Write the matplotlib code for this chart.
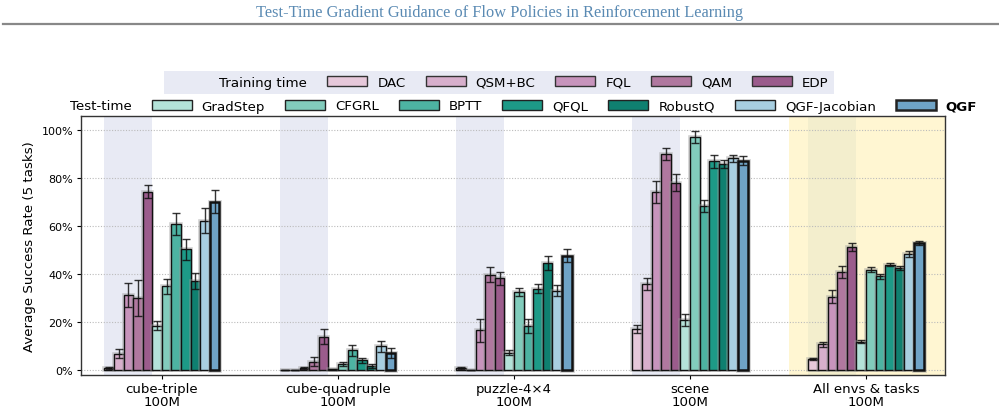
import matplotlib
matplotlib.use("Agg")
import matplotlib.pyplot as plt
import matplotlib.patheffects as pe
from matplotlib.patches import Patch
from matplotlib.lines import Line2D
import numpy as np

groups = ["cube-triple\n100M", "cube-quadruple\n100M", "puzzle-4×4\n100M",
          "scene\n100M", "All envs & tasks\n100M"]
train_methods = ["DAC", "QSM+BC", "FQL", "QAM", "EDP"]
test_methods = ["GradStep", "CFGRL", "BPTT", "QFQL", "RobustQ", "QGF-Jacobian", "QGF"]

dac = [1.0, 0.1, 1.0, 17.2, 4.7]
dac_err = [0.3, 0.1, 0.3, 1.5, 0.4]
qsm = [7.0, 0.2, 0.0, 35.8, 10.8]
qsm_err = [1.9, 0.1, 0.0, 2.4, 1.0]
fql = [31.3, 1.0, 16.7, 74.1, 30.7]
fql_err = [5.1, 0.4, 4.8, 4.6, 2.8]
qam = [30.0, 3.6, 39.8, 89.8, 40.8]
qam_err = [7.4, 1.9, 3.2, 2.5, 2.4]
edp = [74.3, 14.0, 38.3, 78.1, 51.3]
edp_err = [2.8, 3.2, 2.8, 3.6, 1.5]
gradstep = [18.5, 0.5, 7.3, 20.9, 11.9]
gradstep_err = [1.9, 0.2, 1.1, 2.4, 0.6]
cfgrl = [35.0, 2.5, 32.6, 97.0, 41.9]
cfgrl_err = [3.1, 0.8, 1.7, 2.6, 1.0]
bptt = [60.7, 8.4, 18.3, 68.5, 39.1]
bptt_err = [4.6, 2.3, 2.9, 2.5, 1.0]
qfql = [50.3, 4.1, 34.0, 86.9, 44.0]
qfql_err = [4.5, 1.1, 1.7, 2.8, 0.8]
robustq = [37.2, 1.9, 44.5, 85.9, 42.5]
robustq_err = [3.2, 0.8, 2.9, 1.7, 0.7]
qgfj = [62.2, 10.1, 33.2, 88.2, 48.4]
qgfj_err = [5.2, 2.3, 2.2, 1.5, 1.4]
qgf = [70.1, 7.2, 47.7, 87.1, 53.0]
qgf_err = [4.8, 1.9, 2.6, 1.9, 0.8]

values = [dac, qsm, fql, qam, edp, gradstep, cfgrl, bptt, qfql, robustq, qgfj, qgf]
errors = [dac_err, qsm_err, fql_err, qam_err, edp_err, gradstep_err, cfgrl_err,
          bptt_err, qfql_err, robustq_err, qgfj_err, qgf_err]
colors = ["#e6c8da", "#d7afcc", "#c794bc", "#b0789f", "#9b5c8c",
          "#b4e3d9", "#82ccbc", "#4db3a2", "#1d9a87", "#0f8070", "#a8cfe1", "#6fa3c6"]
methods = train_methods + test_methods

plt.rcParams['font.family'] = ['DejaVu Sans']
FS = 9.6

fig = plt.figure(figsize=(9.99, 4.14), dpi=100)
ax = fig.add_axes([0.081, 0.092, 0.865, 0.625])

n = len(methods)
w = 0.0545
x = np.arange(len(groups))
offsets = (np.arange(n) - (n - 1) / 2) * w

ax.set_xlim(-0.46, 4.449)
ax.set_ylim(-1.9, 105.7)

# background bands
for gi in range(len(groups)):
    left = x[gi] + offsets[0] - w / 2
    right = x[gi] + offsets[len(train_methods) - 1] + w / 2
    if gi == len(groups) - 1:
        ax.axvspan(x[gi] - 0.4375, 4.449, color="#fff6d2", zorder=0, lw=0)
        ax.axvspan(left, right, color="#f3eecd", zorder=0.5, lw=0)
    else:
        ax.axvspan(left, right, color="#e8eaf4", zorder=0, lw=0)

ax.yaxis.grid(True, linestyle=(0, (1, 1.5)), color="#bbbbbb", linewidth=0.8, zorder=1)
ax.set_axisbelow(True)

for i, (m, v, e, c) in enumerate(zip(methods, values, errors, colors)):
    lw = 1.8 if m == "QGF" else 1.0
    bars = ax.bar(x + offsets[i], v, width=w, color=c, edgecolor="#111111", linewidth=lw,
                  zorder=3)
    for b in bars:
        b.set_path_effects([pe.Stroke(linewidth=lw + 1.6, foreground="#999999", alpha=0.45),
                            pe.Normal()])
    ax.errorbar(x + offsets[i], v, yerr=e, fmt="none", ecolor="#111111",
                elinewidth=1.0, capsize=3, capthick=1.0, alpha=0.85, zorder=4)

ax.set_xticks(x)
ax.set_xticklabels(groups, fontsize=FS, linespacing=1.05)
ax.tick_params(axis="x", length=3, pad=2)
ax.set_yticks([0, 20, 40, 60, 80, 100])
ax.set_yticklabels(["0%", "20%", "40%", "60%", "80%", "100%"], fontsize=8)
ax.tick_params(axis="y", length=3, pad=2.5)
ax.set_ylabel("Average Success Rate (5 tasks)", fontsize=FS, labelpad=4)
for s in ax.spines.values():
    s.set_color("#333333")
    s.set_linewidth(1.0)

# legends
blank = Patch(facecolor="none", edgecolor="none")
h1 = [blank] + [Patch(facecolor=colors[i], edgecolor="#333333", linewidth=1.0)
                for i in range(len(train_methods))]
l1 = ["Training time"] + train_methods
leg1 = fig.legend(h1, l1, ncol=6, loc="center", bbox_to_anchor=(0.4995, 1 - 83.5 / 414),
                  fontsize=FS, frameon=True, fancybox=False, handlelength=3.0,
                  handleheight=0.75, handletextpad=0.75, columnspacing=1.5,
                  borderpad=0.4, borderaxespad=0)
leg1.get_frame().set_facecolor("#e8eaf4")
leg1.get_frame().set_edgecolor("none")
leg1.get_frame().set_alpha(1)

h2 = [blank]
for i in range(len(train_methods), n):
    lw = 1.8 if methods[i] == "QGF" else 1.0
    h2.append(Patch(facecolor=colors[i], edgecolor="#222222", linewidth=lw))
l2 = ["Test-time"] + test_methods
leg2 = fig.legend(h2, l2, ncol=8, loc="center", bbox_to_anchor=(0.499, 1 - 107 / 414),
                  fontsize=FS, frameon=False, handlelength=3.0, handleheight=0.75,
                  handletextpad=0.75, columnspacing=1.5, borderaxespad=0, borderpad=0)
for t in leg2.get_texts():
    if t.get_text() == "QGF":
        t.set_fontweight("bold")

# page header
fig.text(0.5, 1 - 13 / 414, "Test-Time Gradient Guidance of Flow Policies in Reinforcement Learning",
         ha="center", va="center", fontsize=11.8, color="#5a8ab3", family="Liberation Serif")
fig.add_artist(Line2D([0.003, 1.0], [1 - 25 / 414, 1 - 25 / 414], color="#888888",
                      linewidth=1.6, transform=fig.transFigure))

fig.savefig("out.png", dpi=100)
